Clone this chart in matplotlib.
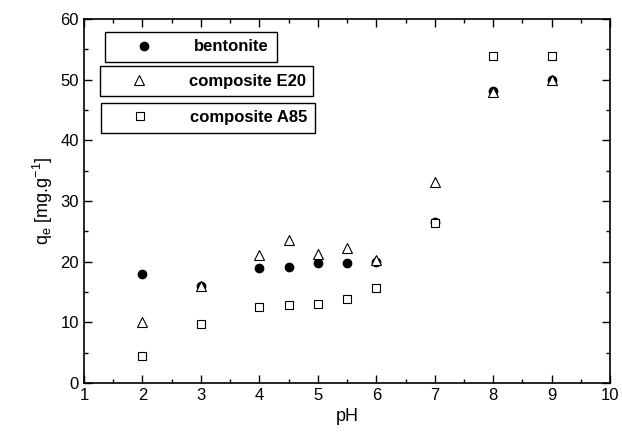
import matplotlib
matplotlib.use("Agg")
import matplotlib.pyplot as plt
from matplotlib.ticker import MultipleLocator

plt.rcParams['font.family'] = ['Liberation Sans', 'DejaVu Sans']
plt.rcParams['mathtext.fontset'] = 'custom'
plt.rcParams['mathtext.rm'] = 'Liberation Sans'

ph = [2, 3, 4, 4.5, 5, 5.5, 6, 7, 8, 9]
bentonite = [18.0, 16.0, 18.9, 19.1, 19.8, 19.8, 20.0, 26.6, 48.2, 49.9]
e20 = [10.1, 16.0, 21.1, 23.6, 21.3, 22.2, 20.2, 33.1, 47.9, 49.9]
a85 = [4.5, 9.8, 12.6, 12.8, 13.1, 13.8, 15.6, 26.3, 53.9, 53.9]

fig = plt.figure(figsize=(6.22, 4.42), dpi=100)
ax = fig.add_axes([0.135, 0.1335, 0.846, 0.8235])

h1, = ax.plot(ph, bentonite, 'o', color='black', markersize=6, linestyle='none')
h2, = ax.plot(ph, e20, '^', mfc='white', mec='black', mew=0.8, markersize=7, linestyle='none')
h3, = ax.plot(ph, a85, 's', mfc='white', mec='black', mew=0.8, markersize=5.5, linestyle='none')
# open markers drawn on top of the filled circles
h1.set_zorder(1)
h2.set_zorder(2)
h3.set_zorder(3)

ax.set_xlim(1, 10)
ax.set_ylim(0, 60)
ax.xaxis.set_major_locator(MultipleLocator(1))
ax.xaxis.set_minor_locator(MultipleLocator(0.5))
ax.yaxis.set_major_locator(MultipleLocator(10))
ax.yaxis.set_minor_locator(MultipleLocator(5))
ax.tick_params(which='both', direction='in', top=True, right=True, labelsize=12, width=1)
ax.tick_params(which='major', length=6)
ax.tick_params(which='minor', length=3)
for s in ax.spines.values():
    s.set_linewidth(1.2)

ax.set_xlabel('pH', fontsize=13)
ax.set_ylabel(r'q$_\mathregular{e}$ [mg.g$^\mathregular{-1}$]', fontsize=13)

boxes = [(h1, 'bentonite', (0.169, 0.86)), (h2, 'composite E20', (0.160, 0.782)),
         (h3, 'composite A85', (0.162, 0.70))]
for h, lab, pos in boxes:
    lg = fig.legend([h], [lab], loc='lower left', bbox_to_anchor=pos, frameon=True,
                    fancybox=False, edgecolor='black', framealpha=1,
                    prop={'weight': 'bold', 'size': 12}, borderpad=0.45,
                    handlelength=3.8, handletextpad=1.1, borderaxespad=0)
    lg.get_frame().set_linewidth(1)

fig.savefig('out.png', dpi=100)
